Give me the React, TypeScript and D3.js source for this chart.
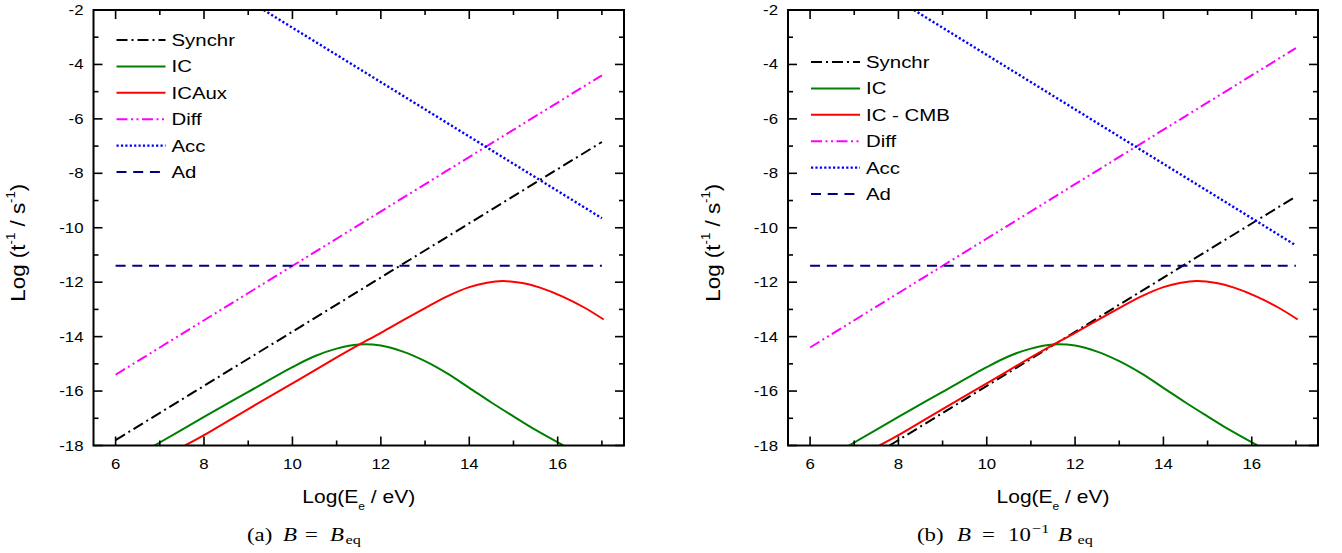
import React from "react";
import * as d3 from "d3";

// ---- axis ranges and ticks ----
const X_DOMAIN: [number, number] = [5.5, 17.5];
const Y_DOMAIN: [number, number] = [-18, -2];
const X_MAJOR = [6, 8, 10, 12, 14, 16];
const X_MINOR = [7, 9, 11, 13, 15, 17];
const Y_MAJOR = [-2, -4, -6, -8, -10, -12, -14, -16, -18];
const Y_MINOR = [-3, -5, -7, -9, -11, -13, -15, -17];

// ---- IC on the radiation field (same in both panels) ----
const IC_E = [6.88, 8, 9, 10, 10.5, 11, 11.5, 12, 12.5, 13, 13.5, 14, 14.5, 15, 15.5, 16.13];
const IC_T = [-18, -16.95, -16.03, -15.12, -14.72, -14.44, -14.29, -14.33, -14.55, -14.9, -15.35, -15.88, -16.42, -16.93, -17.43, -18];

// ---- IC on the auxiliary / CMB field (same in both panels) ----
const ICAUX_E = [7.57, 8, 9, 10, 11, 11.5, 12, 12.5, 13, 13.5, 14, 14.4, 14.75, 15.2, 15.6, 16.1, 16.6, 17.04];
const ICAUX_T = [-18, -17.62, -16.66, -15.72, -14.76, -14.3, -13.86, -13.4, -12.95, -12.52, -12.18, -12.02, -11.96, -12.03, -12.2, -12.52, -12.93, -13.37];

// ---- panel (a): B = B_eq ----
const SYN_A_E = [6, 17];
const SYN_A_T = [-17.8, -6.85];
const DIFF_A_E = [6, 17];
const DIFF_A_T = [-15.4, -4.4];
const ACC_A_E = [9.35, 17];
const ACC_A_T = [-2, -9.65];
const AD_A_E = [6, 17];
const AD_A_T = [-11.4, -11.4];

// ---- panel (b): B = 0.1 B_eq ----
const SYN_B_E = [7.8, 17];
const SYN_B_T = [-18, -8.85];
const DIFF_B_E = [6, 17];
const DIFF_B_T = [-14.4, -3.4];
const ACC_B_E = [8.35, 17];
const ACC_B_T = [-2, -10.65];
const AD_B_E = [6, 17];
const AD_B_T = [-11.4, -11.4];

const LEGEND_A = ["Synchr", "IC", "ICAux", "Diff", "Acc", "Ad"];
const LEGEND_B = ["Synchr", "IC", "IC - CMB", "Diff", "Acc", "Ad"];

type Style = { color: string; dash: string | null; width: number };
const STYLES: Style[] = [
  { color: "#000000", dash: "11,4,2,4", width: 2 },
  { color: "#008000", dash: null, width: 2 },
  { color: "#ff0000", dash: null, width: 2 },
  { color: "#ff00ff", dash: "11,3.5,2,3.5,2,3.5", width: 2 },
  { color: "#0000ff", dash: "2.2,2.2", width: 2.4 },
  { color: "#000080", dash: "10,6.7", width: 2 },
];

const zipPts = (xs: number[], ys: number[]) => xs.map((x, i) => [x, ys[i]] as [number, number]);

const SANS = "'Liberation Sans', Arial, Helvetica, sans-serif";
const SERIF = "'Liberation Serif', 'Times New Roman', serif";
const SX = 1.2;

type PanelProps = {
  id: string;
  left: number;
  right: number;
  legend: string[];
  legendTop: number;
  series: [number, number][][];
  yTitleX: number;
};

const TOP = 10;
const BOTTOM = 445.5;

function Panel({ id, left, right, legend, legendTop, series, yTitleX }: PanelProps) {
  const x = d3.scaleLinear().domain(X_DOMAIN).range([left, right]);
  const y = d3.scaleLinear().domain(Y_DOMAIN).range([BOTTOM, TOP]);
  const smooth = d3
    .line<[number, number]>()
    .x((d) => x(d[0]))
    .y((d) => y(d[1]))
    .curve(d3.curveCatmullRom.alpha(0.5));

  const MAJ = 9;
  const MIN = 5;
  const tw = 1.6;
  const legStep = 26.4;
  const legX0 = left + 23;
  const legX1 = left + 72;

  return (
    <g>
      <defs>
        <clipPath id={`clip-${id}`}>
          <rect x={left} y={TOP} width={right - left} height={BOTTOM - TOP} />
        </clipPath>
      </defs>

      {/* curves */}
      <g clipPath={`url(#clip-${id})`}>
        {series.map((pts, i) => (
          <path
            key={i}
            d={smooth(pts) || ""}
            fill="none"
            stroke={STYLES[i].color}
            strokeWidth={STYLES[i].width}
            strokeDasharray={STYLES[i].dash || undefined}
          />
        ))}
      </g>

      {/* ticks, pointing inward on all four sides */}
      <g stroke="#000" strokeWidth={tw}>
        {X_MAJOR.map((t) => (
          <g key={`xM${t}`}>
            <line x1={x(t)} x2={x(t)} y1={BOTTOM} y2={BOTTOM - MAJ} />
            <line x1={x(t)} x2={x(t)} y1={TOP} y2={TOP + MAJ} />
          </g>
        ))}
        {X_MINOR.map((t) => (
          <g key={`xm${t}`}>
            <line x1={x(t)} x2={x(t)} y1={BOTTOM} y2={BOTTOM - MIN} />
            <line x1={x(t)} x2={x(t)} y1={TOP} y2={TOP + MIN} />
          </g>
        ))}
        {Y_MAJOR.map((t) => (
          <g key={`yM${t}`}>
            <line x1={left} x2={left + MAJ} y1={y(t)} y2={y(t)} />
            <line x1={right} x2={right - MAJ} y1={y(t)} y2={y(t)} />
          </g>
        ))}
        {Y_MINOR.map((t) => (
          <g key={`ym${t}`}>
            <line x1={left} x2={left + MIN} y1={y(t)} y2={y(t)} />
            <line x1={right} x2={right - MIN} y1={y(t)} y2={y(t)} />
          </g>
        ))}
      </g>

      {/* frame */}
      <rect x={left} y={TOP} width={right - left} height={BOTTOM - TOP} fill="none" stroke="#000" strokeWidth={2} />

      {/* tick labels */}
      <g fontFamily={SANS} fontSize={14} fill="#000">
        {X_MAJOR.map((t) => (
          <text key={`xl${t}`} transform={`translate(${x(t)},469) scale(${SX},1)`} textAnchor="middle">
            {t}
          </text>
        ))}
        {Y_MAJOR.map((t) => (
          <text key={`yl${t}`} transform={`translate(${left - 10},${y(t) + 5}) scale(${SX},1)`} textAnchor="end">
            {t}
          </text>
        ))}
      </g>

      {/* axis titles */}
      <text
        transform={`translate(${(left + right) / 2},503) scale(${SX},1)`}
        textAnchor="middle"
        fontFamily={SANS}
        fontSize={17.5}
      >
        Log(E
        <tspan fontSize={10} dy={7}>
          e
        </tspan>
        <tspan dy={-7}> / eV)</tspan>
      </text>
      <text
        transform={`translate(${yTitleX},${(TOP + BOTTOM) / 2 + 15}) rotate(-90) scale(1,${SX})`}
        textAnchor="middle"
        fontFamily={SANS}
        fontSize={17}
        textLength={118}
        lengthAdjust="spacingAndGlyphs"
      >
        Log (t
        <tspan fontSize={10} dy={-8}>
          -1
        </tspan>
        <tspan dy={8}> / s</tspan>
        <tspan fontSize={10} dy={-8}>
          -1
        </tspan>
        <tspan dy={8}>)</tspan>
      </text>

      {/* legend */}
      <g fontFamily={SANS} fontSize={17}>
        {legend.map((name, i) => {
          const ly = legendTop + i * legStep;
          return (
            <g key={name}>
              <line
                x1={legX0}
                x2={legX1}
                y1={ly}
                y2={ly}
                stroke={STYLES[i].color}
                strokeWidth={STYLES[i].width}
                strokeDasharray={STYLES[i].dash || undefined}
              />
              <text transform={`translate(${legX1 + 6},${ly + 6}) scale(${SX},1)`}>{name}</text>
            </g>
          );
        })}
      </g>
    </g>
  );
}

// one piece of a caption: a run of text with its own size and style
type Piece = { t: string; x: number; dy?: number; size?: number; italic?: boolean };

const CAPTION_A: Piece[] = [
  { t: "(a)", x: 247 },
  { t: "B", x: 283, italic: true },
  { t: "=", x: 305 },
  { t: "B", x: 330, italic: true },
  { t: "eq", x: 345.5, dy: 3, size: 13.5 },
];
const CAPTION_B: Piece[] = [
  { t: "(b)", x: 917 },
  { t: "B", x: 957, italic: true },
  { t: "=", x: 982 },
  { t: "10", x: 1008 },
  { t: "−1", x: 1032, dy: -8, size: 13.5 },
  { t: "B", x: 1058, italic: true },
  { t: "eq", x: 1077.5, dy: 3, size: 13.5 },
];

function Caption({ pieces, baseline }: { pieces: Piece[]; baseline: number }) {
  return (
    <g fontFamily={SERIF} fill="#000">
      {pieces.map((p, i) => (
        <text
          key={i}
          transform={`translate(${p.x},${baseline + (p.dy || 0)}) scale(1.2,1)`}
          fontSize={p.size || 19}
          fontStyle={p.italic ? "italic" : "normal"}
        >
          {p.t}
        </text>
      ))}
    </g>
  );
}

export default function App() {
  const seriesA = [
    zipPts(SYN_A_E, SYN_A_T),
    zipPts(IC_E, IC_T),
    zipPts(ICAUX_E, ICAUX_T),
    zipPts(DIFF_A_E, DIFF_A_T),
    zipPts(ACC_A_E, ACC_A_T),
    zipPts(AD_A_E, AD_A_T),
  ];
  const seriesB = [
    zipPts(SYN_B_E, SYN_B_T),
    zipPts(IC_E, IC_T),
    zipPts(ICAUX_E, ICAUX_T),
    zipPts(DIFF_B_E, DIFF_B_T),
    zipPts(ACC_B_E, ACC_B_T),
    zipPts(AD_B_E, AD_B_T),
  ];

  return (
    <svg
      width={1342}
      height={553}
      viewBox="0 0 1342 553"
      style={{ position: "absolute", left: 0, top: 0, background: "#fff" }}
    >
      <rect width={1342} height={553} fill="#fff" />
      <Panel id="a" left={93.5} right={624} legend={LEGEND_A} legendTop={40} series={seriesA} yTitleX={25} />
      <Panel id="b" left={788} right={1318} legend={LEGEND_B} legendTop={62} series={seriesB} yTitleX={720} />

      <Caption pieces={CAPTION_A} baseline={541} />
      <Caption pieces={CAPTION_B} baseline={541} />
    </svg>
  );
}
